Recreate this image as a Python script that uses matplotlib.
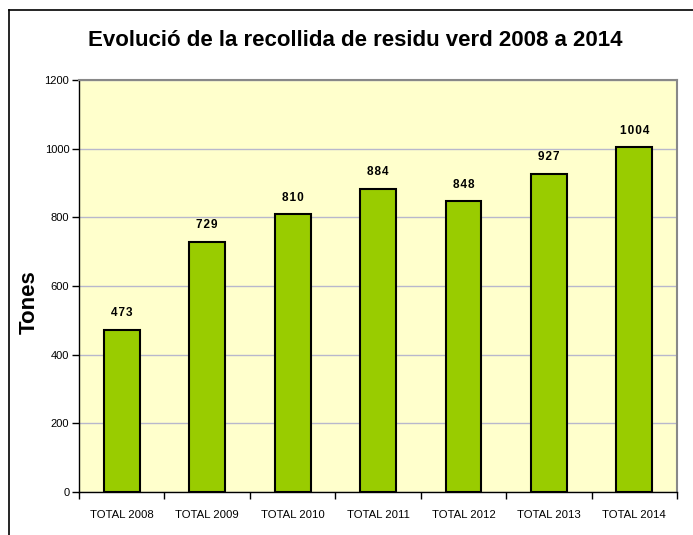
import numpy as np
import matplotlib.pyplot as plt
from matplotlib.lines import Line2D

# Data
categories = ["TOTAL 2008", "TOTAL 2009", "TOTAL 2010", "TOTAL 2011",
              "TOTAL 2012", "TOTAL 2013", "TOTAL 2014"]
tones = [473, 729, 810, 884, 848, 927, 1004]
y_ticks = [0, 200, 400, 600, 800, 1000, 1200]

plt.rcParams["font.family"] = ["Liberation Sans", "DejaVu Sans"]

fig = plt.figure(figsize=(6.93, 5.35), dpi=100)
ax = fig.add_axes([0.114, 0.0804, 0.863, 0.770])
ax.set_facecolor("#FFFFCC")

x = np.arange(len(categories))
bars = ax.bar(x, tones, width=0.42, color="#99CC00", edgecolor="black",
              linewidth=1.5, zorder=3)

# value labels above bars (spaced out like the original)
for xi, v in zip(x, tones):
    ax.text(xi, v + 30, "\u200a".join(str(v)), ha="center", va="bottom",
            fontsize=8.5, fontweight="bold", zorder=4)

ax.set_xlim(-0.5, len(categories) - 0.5)
ax.set_ylim(0, 1200)
ax.set_yticks(y_ticks)
ax.tick_params(axis="y", labelsize=8, length=5, width=1, direction="out", pad=2)

# category labels between boundary ticks
ax.set_xticks(np.arange(len(categories) + 1) - 0.5)
ax.set_xticklabels([])
ax.set_xticks(x, minor=True)
ax.set_xticklabels(categories, minor=True, fontsize=8.2)
ax.tick_params(axis="x", which="major", length=5, width=1, direction="out")
ax.tick_params(axis="x", which="minor", length=0, pad=13)

ax.yaxis.grid(True, color="#B8B8CC", linewidth=1, zorder=0)
ax.set_axisbelow(True)

for side in ["top", "right"]:
    ax.spines[side].set_color("#888888")
    ax.spines[side].set_linewidth(1.5)
for side in ["left", "bottom"]:
    ax.spines[side].set_color("black")
    ax.spines[side].set_linewidth(1)

fig.text(0.512, 0.925, "Evolució de la recollida de residu verd 2008 a 2014",
         ha="center", va="center", fontsize=16, fontweight="bold")
fig.text(0.042, 0.435, "Tones", rotation=90, ha="center", va="center",
         fontsize=16, fontweight="bold")

# outer frame (left and top edges visible)
fig.add_artist(Line2D([9 / 693, 9 / 693], [0, 1 - 10 / 535], color="black",
                      linewidth=1.2, transform=fig.transFigure))
fig.add_artist(Line2D([9 / 693, 1], [1 - 10 / 535, 1 - 10 / 535], color="black",
                      linewidth=1.2, transform=fig.transFigure))

fig.savefig("out.png", dpi=100, facecolor="white")
